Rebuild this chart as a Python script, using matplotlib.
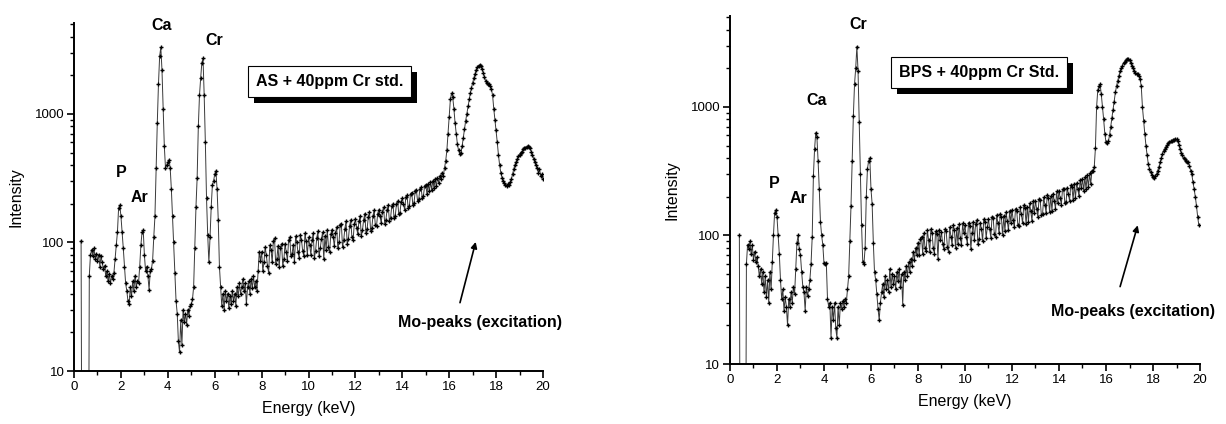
import numpy as np
import matplotlib
matplotlib.use("Agg")
import matplotlib.pyplot as plt
from matplotlib.patches import Rectangle
from matplotlib.ticker import FixedLocator, NullFormatter, LogLocator

plt.rcParams["font.family"] = ["Liberation Sans", "DejaVu Sans"]

nan = float("nan")
STEP = 0.05  # keV per channel

# AS + 40ppm Cr std. : intensity per 0.05 keV, one row per keV
as_rows = [
    [nan, nan, nan, nan, nan, nan, 103, 0.1, 0.1, 0.1, 0.1, 0.1, 0.1, 55, 80, 88, 78, 90, 75, 82],
    [72, 80, 65, 78, 70, 62, 66, 55, 60, 50, 57, 48, 55, 52, 58, 75, 95, 120, 185, 195],
    [160, 120, 90, 65, 48, 42, 35, 33, 45, 38, 50, 42, 55, 45, 50, 48, 65, 95, 120, 125],
    [80, 60, 65, 55, 43, 60, 62, 72, 110, 160, 380, 850, 1700, 2800, 3300, 2200, 1100, 560, 380, 400],
    [420, 440, 380, 260, 160, 100, 58, 35, 28, 17, 14, 25, 16, 30, 24, 28, 23, 30, 27, 32],
    [33, 36, 45, 90, 190, 320, 800, 1400, 1900, 2500, 2700, 1400, 600, 220, 115, 70, 110, 190, 280, 300],
    [340, 360, 260, 150, 65, 45, 32, 40, 30, 42, 35, 40, 31, 38, 33, 42, 35, 40, 32, 45],
    [38, 48, 40, 45, 52, 42, 48, 33, 45, 50, 40, 52, 44, 55, 45, 50, 42, 60, 85, 72],
    [85, 60, 70, 92, 80, 66, 58, 95, 88, 70, 102, 108, 68, 75, 94, 64, 90, 98, 66, 74],
    [98, 84, 72, 104, 110, 78, 82, 96, 70, 112, 100, 84, 76, 115, 104, 86, 78, 118, 102, 80],
    [110, 96, 80, 104, 118, 76, 86, 108, 122, 78, 90, 106, 120, 74, 112, 88, 126, 92, 84, 116],
    [126, 110, 94, 118, 132, 90, 100, 136, 140, 92, 104, 128, 146, 98, 106, 134, 150, 110, 104, 138],
    [152, 130, 116, 146, 160, 112, 124, 150, 168, 118, 128, 158, 172, 122, 130, 162, 178, 136, 134, 168],
    [180, 160, 142, 174, 188, 140, 150, 180, 194, 146, 156, 192, 200, 154, 162, 198, 210, 166, 170, 208],
    [220, 200, 178, 226, 232, 186, 192, 238, 244, 196, 204, 250, 256, 210, 216, 262, 268, 222, 230, 274],
    [280, 240, 286, 250, 294, 258, 302, 266, 312, 274, 320, 290, 330, 310, 350, 330, 380, 430, 520, 700],
    [950, 1300, 1450, 1350, 1100, 850, 700, 580, 520, 490, 500, 560, 650, 760, 880, 1000, 1150, 1300, 1450, 1600],
    [1750, 1900, 2050, 2200, 2300, 2380, 2400, 2350, 2250, 2100, 1950, 1800, 1750, 1700, 1720, 1650, 1550, 1400, 1100, 900],
    [750, 600, 480, 400, 350, 320, 300, 290, 280, 275, 285, 280, 295, 310, 340, 370, 400, 420, 445, 470],
    [480, 500, 510, 530, 540, 545, 555, 560, 550, 540, 510, 480, 450, 420, 400, 380, 350, 370, 330, 340],
    [310],
]

# BPS + 40ppm Cr Std.
bps_rows = [
    [nan, nan, nan, nan, nan, nan, nan, nan, 100, 0.1, 0.1, 0.1, 0.1, 0.1, 60, 85, 78, 90, 72, 84],
    [65, 75, 62, 68, 58, 48, 55, 42, 52, 36, 48, 33, 45, 30, 52, 38, 62, 100, 150, 158],
    [140, 100, 72, 45, 32, 38, 26, 33, 28, 20, 32, 28, 36, 30, 40, 35, 55, 88, 100, 78],
    [70, 52, 40, 36, 26, 40, 34, 38, 45, 60, 98, 290, 470, 630, 580, 380, 230, 128, 100, 85],
    [61, 60, 61, 32, 28, 30, 16, 28, 22, 30, 19, 16, 28, 20, 30, 27, 31, 28, 32, 30],
    [38, 48, 90, 170, 380, 850, 1500, 2000, 2950, 1900, 760, 300, 120, 62, 60, 80, 200, 330, 380, 400],
    [230, 175, 88, 52, 45, 35, 27, 22, 30, 36, 42, 33, 48, 38, 45, 36, 55, 40, 50, 42],
    [48, 38, 52, 44, 55, 40, 50, 29, 52, 45, 58, 48, 62, 52, 66, 58, 75, 65, 80, 70],
    [88, 70, 94, 98, 72, 104, 80, 76, 110, 92, 74, 112, 104, 80, 72, 108, 102, 66, 110, 92],
    [106, 86, 78, 112, 108, 82, 74, 116, 98, 84, 120, 110, 80, 114, 86, 122, 96, 84, 124, 104],
    [120, 98, 86, 126, 118, 78, 104, 128, 92, 122, 132, 86, 94, 126, 112, 90, 134, 128, 96, 116],
    [134, 112, 96, 140, 136, 102, 98, 144, 124, 104, 148, 138, 100, 142, 108, 152, 130, 110, 156, 126],
    [158, 132, 116, 162, 156, 120, 118, 166, 146, 124, 172, 164, 122, 168, 128, 178, 154, 130, 184, 150],
    [186, 160, 140, 192, 188, 144, 146, 198, 174, 150, 206, 196, 152, 202, 156, 212, 186, 162, 220, 178],
    [222, 196, 174, 228, 230, 178, 182, 236, 210, 186, 246, 238, 190, 250, 194, 256, 230, 202, 268, 236],
    [276, 222, 284, 230, 294, 238, 304, 250, 320, 320, 340, 480, 1000, 1350, 1450, 1500, 1250, 1000, 800, 620],
    [530, 520, 540, 600, 700, 820, 950, 1100, 1300, 1460, 1600, 1750, 1900, 2000, 2100, 2200, 2250, 2300, 2350, 2350],
    [2300, 2200, 2100, 2000, 1900, 1850, 1800, 1800, 1750, 1650, 1450, 1000, 780, 620, 500, 420, 360, 330, 310, 295],
    [285, 280, 290, 300, 320, 340, 370, 400, 430, 455, 470, 490, 505, 520, 530, 540, 545, 550, 555, 560],
    [560, 540, 510, 470, 440, 420, 400, 390, 380, 375, 370, 350, 320, 300, 260, 230, 200, 170, 140, 120],
]

as_counts = np.concatenate([np.array(r, dtype=float) for r in as_rows])
bps_counts = np.concatenate([np.array(r, dtype=float) for r in bps_rows])
as_energy = np.arange(len(as_counts)) * STEP
bps_energy = np.arange(len(bps_counts)) * STEP

# peak labels: (text, energy, intensity)
as_labels = [("Ca", 3.75, 4900), ("Cr", 6.0, 3700), ("P", 2.0, 350), ("Ar", 2.8, 225)]
bps_labels = [("Cr", 5.46, 4350), ("Ca", 3.7, 1130), ("P", 1.9, 255), ("Ar", 2.9, 195)]

boxes = []


def draw_panel(ax, energy, counts, labels, box_text, box_xy, mo_text_xy, arrow_from, arrow_to):
    ax.plot(energy, counts, color="#3a3a3a", lw=0.7, marker="+", ms=3.5,
            mec="black", mew=1.0)
    ax.set_yscale("log")
    ax.set_xlim(0, 20)
    ax.set_ylim(10, 5100)
    ax.spines["top"].set_visible(False)
    ax.spines["right"].set_visible(False)
    for s in ("left", "bottom"):
        ax.spines[s].set_linewidth(1.4)

    ax.xaxis.set_major_locator(FixedLocator(np.arange(0, 21, 2)))
    ax.xaxis.set_minor_locator(FixedLocator(np.arange(1, 20, 2)))
    ax.yaxis.set_major_locator(FixedLocator([10, 100, 1000]))
    ax.yaxis.set_minor_locator(LogLocator(base=10, subs=np.arange(2, 10)))
    ax.yaxis.set_minor_formatter(NullFormatter())
    ax.set_yticklabels(["10", "100", "1000"])
    ax.tick_params(which="major", length=5, width=1.2, labelsize=9.5, pad=2)
    ax.tick_params(which="minor", length=3, width=1.0)

    ax.set_xlabel("Energy (keV)", fontsize=11.5, labelpad=6)
    ax.set_ylabel("Intensity", fontsize=11.5, labelpad=8)

    for txt, x, y in labels:
        ax.text(x, y, txt, ha="center", va="center", fontsize=11.5, fontweight="bold")

    t = ax.text(box_xy[0], box_xy[1], box_text, ha="center", va="center",
                fontsize=11.5, fontweight="bold", color="black", zorder=5,
                bbox=dict(boxstyle="square,pad=0.5", fc="white", ec="black", lw=0.8))
    boxes.append(t)

    ax.text(mo_text_xy[0], mo_text_xy[1], "Mo-peaks (excitation)", ha="center", va="center",
            fontsize=11.5, fontweight="bold")
    ax.annotate("", xy=arrow_to, xytext=arrow_from,
                arrowprops=dict(arrowstyle="-|>", color="black", lw=1.2,
                                mutation_scale=9, shrinkA=0, shrinkB=0))


fig = plt.figure(figsize=(12.26, 4.24), dpi=100)
ax1 = fig.add_axes([0.0604, 0.125, 0.3825, 0.8208])
ax2 = fig.add_axes([0.5954, 0.1415, 0.3834, 0.8208])

draw_panel(ax1, as_energy, as_counts, as_labels, "AS + 40ppm Cr std.", (10.9, 1780),
           (17.3, 23.8), (16.46, 34), (17.13, 101))
draw_panel(ax2, bps_energy, bps_counts, bps_labels, "BPS + 40ppm Cr Std.", (10.6, 1850),
           (17.15, 25.6), (16.6, 40), (17.35, 120))

# black drop shadow behind each label box
fig.canvas.draw()
W, H = fig.bbox.width, fig.bbox.height
for t in boxes:
    bb = t.get_bbox_patch().get_window_extent()
    fig.add_artist(Rectangle(((bb.x0 + 6) / W, (bb.y0 - 6) / H), bb.width / W, bb.height / H,
                             transform=fig.transFigure, fc="black", ec="none", zorder=1))
    t.set_zorder(10)
ax1.set_zorder(2)
ax2.set_zorder(2)
ax1.patch.set_alpha(0)
ax2.patch.set_alpha(0)

fig.savefig("out.png", dpi=100)
